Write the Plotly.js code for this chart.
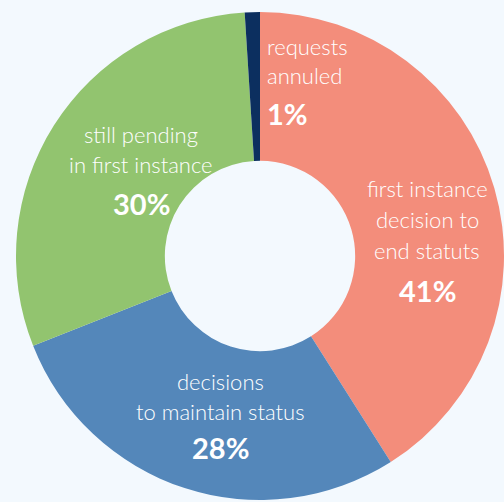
<!DOCTYPE html>
<html><head><meta charset="utf-8">
<script src="https://cdn.plot.ly/plotly-3.0.1.min.js"></script>
<style>html,body{margin:0;padding:0;background:#f3f9fe;}</style>
</head><body><div id="chart" style="width:504px;height:502px;"></div>
<script>
const categories = ["first instance decision to end statuts", "decisions to maintain status", "still pending in first instance", "requests annuled"];
const labelLines = [["first instance", "decision to", "end statuts"], ["decisions", "to maintain status"], ["still pending", "in first instance"], ["requests", "annuled"]];
const values = [41, 28, 30, 1];
const colors = ["#f38d7b", "#5487ba", "#92c46f", "#0c2f5f"];

// label block placement (paper px): x, first line y, line gap, percent y, alignment
const place = [
  {x: 427, y: 188, gap: 31, py: 290, anchor: "center"},
  {x: 220, y: 381, gap: 30, py: 447, anchor: "center"},
  {x: 141, y: 134, gap: 31, py: 203, anchor: "center"},
  {x: 265, y: 46, gap: 30, py: 113, anchor: "left"}
];
const W = 504, H = 502;
const annotations = [];
categories.forEach((c, i) => {
  const p = place[i];
  labelLines[i].forEach((ln, j) => {
    annotations.push({text: ln, x: p.x / W, y: 1 - (p.y + j * p.gap) / H, xref: "paper", yref: "paper",
      xanchor: p.anchor, yanchor: "middle", showarrow: false,
      font: {family: "Lato", size: 22, color: "#ffffff", weight: 300}});
  });
  annotations.push({text: "<b>" + values[i] + "%</b>", x: p.x / W, y: 1 - p.py / H, xref: "paper", yref: "paper",
    xanchor: p.anchor, yanchor: "middle", showarrow: false,
    font: {family: "Lato", size: 29, color: "#ffffff"}});
});

Plotly.newPlot("chart", [{
  type: "pie",
  labels: categories,
  values: values,
  marker: {colors: colors, line: {width: 0}},
  hole: 0.39,
  sort: false,
  direction: "clockwise",
  rotation: 0,
  textinfo: "none",
  hoverinfo: "label+percent",
  domain: {x: [16 / W, 1], y: [2 / H, 490 / H]}
}], {
  width: W, height: H,
  margin: {l: 0, r: 0, t: 0, b: 0},
  paper_bgcolor: "#f3f9fe",
  plot_bgcolor: "#f3f9fe",
  showlegend: false,
  annotations: annotations
}, {displayModeBar: false, staticPlot: true});
</script></body></html>
